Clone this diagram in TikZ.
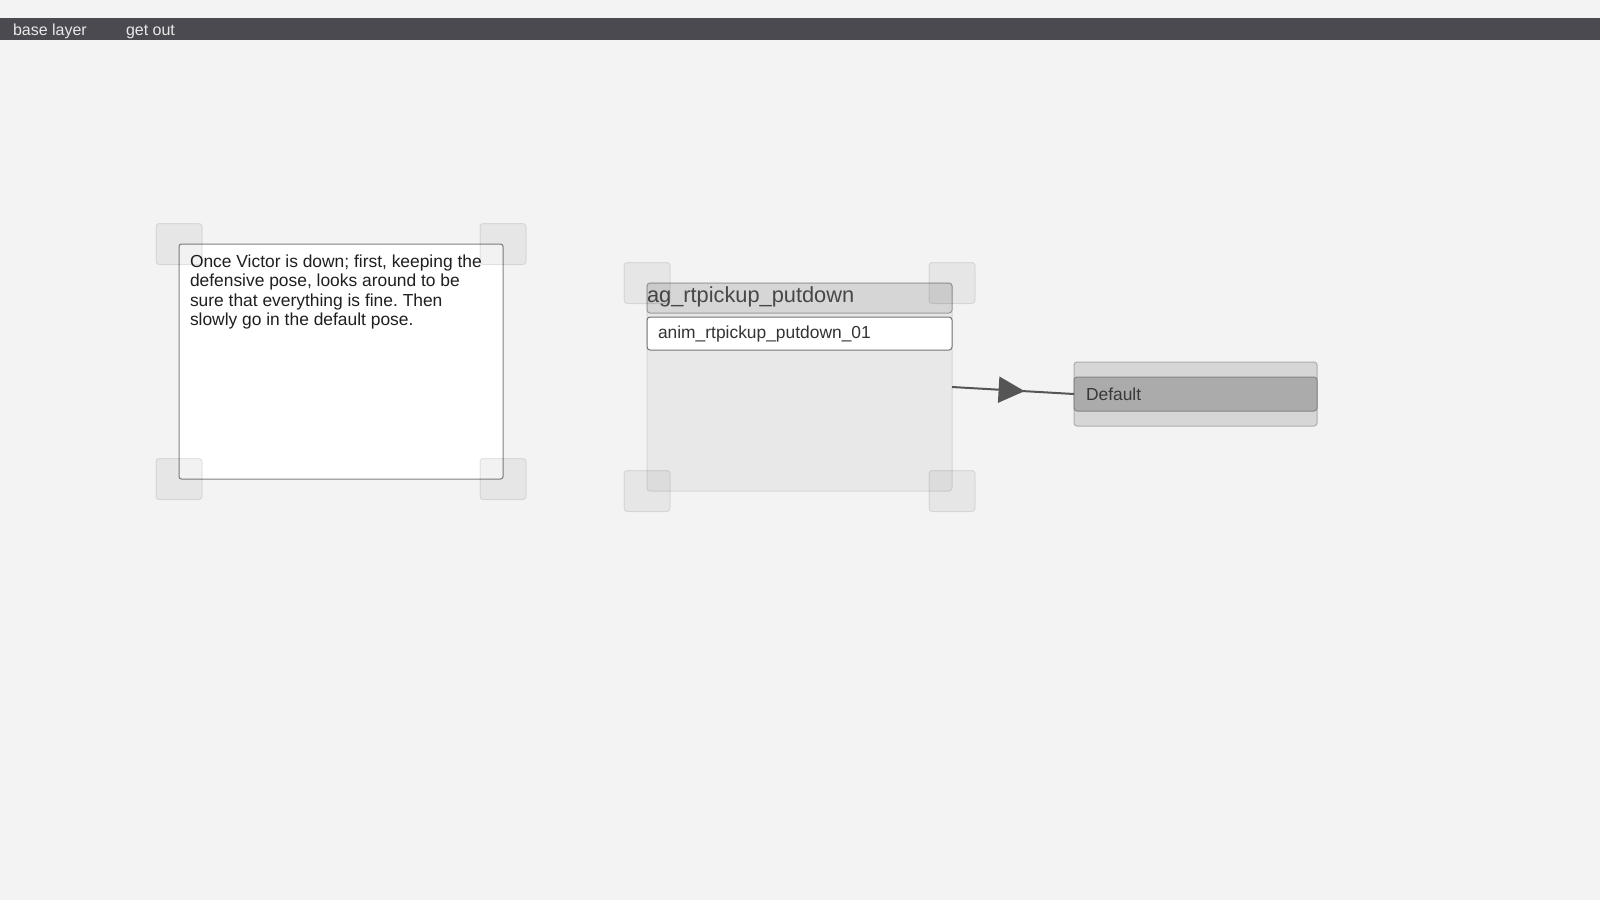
\documentclass[tikz,border=0pt]{standalone}
\usepackage{fontspec}
\setmainfont{Liberation Sans}
\usetikzlibrary{arrows.meta,decorations.markings}
\definecolor{canvas}{HTML}{F3F3F3}
\definecolor{menubg}{HTML}{4B4A50}
\definecolor{menufg}{HTML}{E8E8E8}
\definecolor{headfill}{HTML}{D6D6D6}
\definecolor{headline}{HTML}{9A9A9A}
\definecolor{bodyfill}{HTML}{E8E8E8}
\definecolor{bodyline}{HTML}{D6D6D6}
\definecolor{barfill}{HTML}{ABABAB}
\definecolor{barline}{HTML}{858585}
\definecolor{linkgray}{HTML}{555555}
\frenchspacing
\begin{document}
\begin{tikzpicture}[x=1pt,y=-1pt,inner sep=0pt,outer sep=0pt,line width=1pt,
menutext/.style={text=menufg,font=\fontsize{16}{19}\selectfont,anchor=base west},
handle/.style={draw=black,draw opacity=0.09,fill=black,fill opacity=0.05,rounded corners=3pt,minimum width=46pt,minimum height=41pt},
notebox/.style={draw=black!50,fill=white,rounded corners=2.5pt,minimum width=324pt,minimum height=235pt},
notetext/.style={text=black!88,font=\fontsize{17.4}{19.3}\selectfont,align=left,anchor=north west},
statebody/.style={draw=bodyline,fill=bodyfill,rounded corners=3pt,minimum width=305pt,minimum height=208pt},
statehead/.style={draw=headline,fill=headfill,rounded corners=3pt,minimum width=305pt,minimum height=30pt,text width=305pt,align=left,text=black!72,font=\fontsize{21.8}{24}\selectfont,text depth=6pt},
animrow/.style={draw=black!55,fill=white,rounded corners=3pt,minimum width=305pt,minimum height=33pt,inner xsep=11pt,text width=283pt,align=left,text=black!80,font=\fontsize{17.4}{20}\selectfont,text depth=2.5pt},
stateouter/.style={draw=black!32,fill=headfill,rounded corners=3pt,minimum width=243pt,minimum height=64pt},
defaultbar/.style={draw=barline,fill=barfill,rounded corners=3pt,minimum width=243pt,minimum height=34pt,inner xsep=12pt,text width=219pt,align=left,text=black!78,font=\fontsize{17.4}{20}\selectfont},
link/.style={draw=linkgray,line width=2pt,postaction={decorate},decoration={markings,mark=at position 0.595 with {\arrow{Triangle[length=26pt,width=26pt]}}}}]
\useasboundingbox (0,0) rectangle (1600,900);
\fill[canvas] (0,0) rectangle (1600,900);
% menu bar
\draw (800,29) node[fill=menubg,minimum width=1600pt,minimum height=22pt] (menubar) {};
\draw (13,35) node[menutext] (baselayer) {base layer};
\draw (126,35) node[menutext] (getout) {get out};
% comment box
\draw (341,361.5) node[notebox] (note) {};
\draw ([xshift=11pt,yshift=-11pt]note.north west) node[notetext] (notetxt) {Once Victor is down; first, keeping the\\defensive pose, looks around to be\\sure that everything is fine. Then\\slowly go in the default pose.};
\draw (note.north west) node[handle] (noteA) {};
\draw (note.north east) node[handle] (noteB) {};
\draw (note.south west) node[handle] (noteC) {};
\draw (note.south east) node[handle] (noteD) {};
% state with animation
\draw (799.5,387) node[statebody] (body) {};
\draw (799.5,298) node[statehead] (head) {ag\_rtpickup\_putdown};
\draw (799.5,333.5) node[animrow] (anim) {anim\_rtpickup\_putdown\_01};
\draw (body.north west) node[handle] (bodyA) {};
\draw (body.north east) node[handle] (bodyB) {};
\draw (body.south west) node[handle] (bodyC) {};
\draw (body.south east) node[handle] (bodyD) {};
% default state
\draw (1195.5,394) node[stateouter] (default) {};
\draw (default.center) node[defaultbar] (defbar) {Default};
\draw[link] (body.east) -- (default.west);
\end{tikzpicture}
\end{document}
